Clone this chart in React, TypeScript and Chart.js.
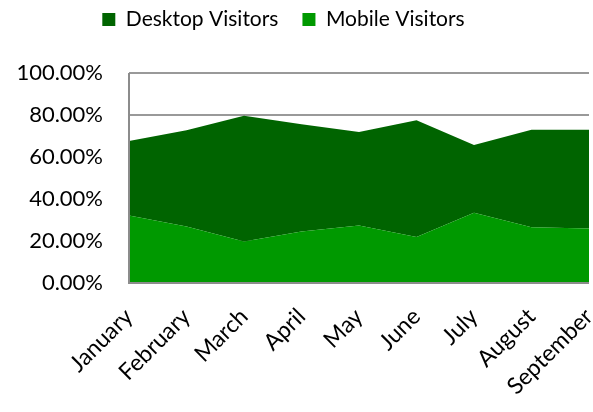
import React, { useEffect, useRef } from "react";
import { Chart, registerables } from "chart.js";

Chart.register(...registerables);

const months = ["January", "February", "March", "April", "May", "June", "July", "August", "September"];
const mobileVisitors = [32.2, 26.9, 19.8, 24.5, 27.4, 21.9, 33.5, 26.5, 26.0];
const desktopVisitors = [35.4, 45.8, 59.8, 51.1, 44.5, 55.6, 32.2, 46.5, 47.0];
const yTickStep = 20;
const yMax = 100;

const FONT = "Lato, 'Open Sans', sans-serif";

const axisLines = {
  id: "axisLines",
  afterDatasetsDraw(chart: any) {
    const { ctx, chartArea } = chart;
    ctx.save();
    ctx.strokeStyle = "#8c8c8c";
    ctx.lineWidth = 2;
    ctx.beginPath();
    ctx.moveTo(chartArea.left, chartArea.top);
    ctx.lineTo(chartArea.left, chartArea.bottom);
    ctx.lineTo(chartArea.right, chartArea.bottom);
    ctx.stroke();
    ctx.restore();
  },
};

const legendGap = {
  id: "legendGap",
  beforeInit(chart: any) {
    const legend = chart.legend;
    if (!legend) return;
    const origFit = legend.fit;
    legend.fit = function () {
      origFit.call(this);
      this.height += 33;
    };
  },
};

export default function App() {
  const ref = useRef<HTMLCanvasElement>(null);
  useEffect(() => {
    if (!ref.current) return;
    const chart = new Chart(ref.current, {
      type: "line",
      data: {
        labels: months,
        datasets: [
          {
            label: "Mobile Visitors",
            data: mobileVisitors,
            backgroundColor: "#009900",
            borderColor: "#009900",
            borderWidth: 0,
            pointRadius: 0,
            fill: "origin",
            tension: 0,
          },
          {
            label: "Desktop Visitors",
            data: desktopVisitors,
            backgroundColor: "#006400",
            borderColor: "#006400",
            borderWidth: 0,
            pointRadius: 0,
            fill: "-1",
            tension: 0,
          },
        ],
      },
      options: {
        animation: false,
        responsive: true,
        maintainAspectRatio: false,
        layout: { padding: { left: -26, right: 0, top: -15, bottom: 0 } },
        plugins: {
          legend: {
            reverse: true,
            labels: {
              boxWidth: 13,
              boxHeight: 13,
              padding: 24,
              color: "#000",
              font: { family: FONT, size: 21 },
            },
          },
          tooltip: { enabled: false },
        },
        scales: {
          x: {
            grid: { display: false, drawTicks: false },
            border: { display: false },
            ticks: {
              color: "#000",
              font: { family: FONT, size: 23 },
              minRotation: 45,
              maxRotation: 45,
              padding: 20,
              autoSkip: false,
            },
            afterFit(scale: any) {
              scale.height = 129;
              scale.paddingRight = 4;
            },
          },
          y: {
            stacked: true,
            min: 0,
            max: yMax,
            grid: { color: "#999999", lineWidth: 2, drawTicks: false },
            border: { display: false },
            ticks: {
              stepSize: yTickStep,
              color: "#000",
              font: { family: FONT, size: 22 },
              padding: 26,
              callback: (v: any) => Number(v).toFixed(2) + "%",
            },
            afterFit(scale: any) {
              scale.width = 155;
            },
          },
        },
      },
      plugins: [axisLines, legendGap],
    });
    return () => chart.destroy();
  }, []);
  return (
    <div style={{ position: "fixed", left: 0, top: 0, width: "593px", height: "412px" }}>
      <canvas ref={ref} />
    </div>
  );
}
